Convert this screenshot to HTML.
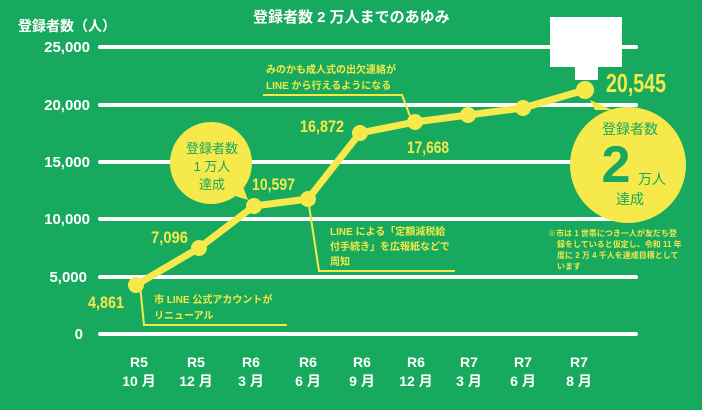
<!DOCTYPE html>
<html><head><meta charset="utf-8"><style>
body{margin:0;width:702px;height:410px;background:#17aa5e;overflow:hidden;font-family:"Liberation Sans","Noto Sans CJK JP",sans-serif}
</style></head><body>
<svg width="702" height="410" xmlns="http://www.w3.org/2000/svg" style="position:absolute;left:0;top:0">
<rect width="702" height="410" fill="#17aa5e"/>
<g font-family="Liberation Sans,Noto Sans CJK JP,sans-serif" font-weight="bold">
<text x="18" y="31" fill="#fff" font-size="14">登録者数（人）</text>
<text x="253" y="22" fill="#fff" font-size="15">登録者数 2 万人までのあゆみ</text>
<g stroke="#fff" stroke-width="4" stroke-linecap="round">
<line x1="100" y1="47" x2="636" y2="47"/><line x1="100" y1="105" x2="636" y2="105"/>
<line x1="100" y1="162" x2="636" y2="162"/><line x1="100" y1="219" x2="636" y2="219"/>
<line x1="100" y1="277" x2="636" y2="277"/><line x1="100" y1="334" x2="636" y2="334"/>
</g>
<g fill="#fff" font-size="15" text-anchor="end">
<text x="90" y="52">25,000</text><text x="90" y="110">20,000</text><text x="90" y="167">15,000</text>
<text x="90" y="224">10,000</text><text x="87" y="282">5,000</text><text x="83" y="339">0</text>
</g>
<g fill="#fff" font-size="14" text-anchor="middle">
<text x="139" y="367">R5</text><text x="139" y="386">10 月</text>
<text x="196" y="367">R5</text><text x="196" y="386">12 月</text>
<text x="251" y="367">R6</text><text x="251" y="386">3 月</text>
<text x="308" y="367">R6</text><text x="308" y="386">6 月</text>
<text x="362" y="367">R6</text><text x="362" y="386">9 月</text>
<text x="416" y="367">R6</text><text x="416" y="386">12 月</text>
<text x="469" y="367">R7</text><text x="469" y="386">3 月</text>
<text x="523" y="367">R7</text><text x="523" y="386">6 月</text>
<text x="579" y="367">R7</text><text x="579" y="386">8 月</text>
</g>
<g stroke="#f4e94a" stroke-width="2" fill="none">
<polyline points="140,285 144,325 287,325"/>
<polyline points="308,199 319,271 455,271"/>
<polyline points="263,95 402,95 410,116"/>
</g>
<circle cx="211" cy="163" r="41" fill="#f6e94c"/>
<polygon points="232,195 248,200 242,184" fill="#f6e94c"/>
<g fill="#17a85e" font-size="13" text-anchor="middle" font-weight="normal">
<text x="212" y="153">登録者数</text><text x="212" y="171">1 万人</text><text x="212" y="189">達成</text>
</g>
<circle cx="628" cy="165" r="58" fill="#f6e94c"/>
<polygon points="595,110 590,100 612,110" fill="#f6e94c"/>
<g fill="#17a85e" text-anchor="middle">
<text x="630" y="134" font-size="14" font-weight="normal">登録者数</text>
<text x="616" y="182" font-size="52">2</text>
<text x="652" y="184" font-size="14" font-weight="normal">万人</text>
<text x="630" y="204" font-size="14" font-weight="normal">達成</text>
</g>
<polyline points="136,285 199,248 254,206 308,199 360,133 415,122 468,115 523,108 585,90" fill="none" stroke="#f6e94c" stroke-width="7" stroke-linejoin="round"/>
<g fill="#f6e94c">
<circle cx="136" cy="285" r="8"/><circle cx="199" cy="248" r="8"/><circle cx="254" cy="206" r="8"/>
<circle cx="308" cy="199" r="8"/><circle cx="360" cy="133" r="8"/><circle cx="415" cy="122" r="8"/>
<circle cx="468" cy="115" r="8"/><circle cx="523" cy="108" r="8"/><circle cx="585" cy="90" r="9"/>
</g>
<g fill="#f6e94c" font-size="17">
<text x="88" y="308" textLength="36" lengthAdjust="spacingAndGlyphs">4,861</text>
<text x="151" y="243" textLength="37" lengthAdjust="spacingAndGlyphs">7,096</text>
<text x="252" y="190" textLength="43" lengthAdjust="spacingAndGlyphs">10,597</text>
<text x="300" y="132" textLength="44" lengthAdjust="spacingAndGlyphs">16,872</text>
<text x="407" y="153" textLength="42" lengthAdjust="spacingAndGlyphs">17,668</text>
<text x="606" y="92" font-size="26" textLength="60" lengthAdjust="spacingAndGlyphs">20,545</text>
</g>
<g fill="#f4e94a" font-size="10">
<text x="154" y="303">市 LINE 公式アカウントが</text><text x="154" y="319">リニューアル</text>
<text x="330" y="235">LINE による「定額減税給</text><text x="330" y="250">付手続き」を広報紙などで</text><text x="330" y="265">周知</text>
<text x="266" y="73">みのかも成人式の出欠連絡が</text><text x="266" y="89">LINE から行えるようになる</text>
</g>
<g fill="#f4e94a" font-size="8">
<text x="548" y="236">※市は 1 世帯につき一人が友だち登</text>
<text x="557" y="247">録をしていると仮定し、令和 11 年</text>
<text x="557" y="258">度に 2 万 4 千人を達成目標として</text>
<text x="557" y="269">います</text>
</g>
<rect x="550" y="17" width="72" height="50" fill="#fff"/>
<rect x="575" y="60" width="23" height="20" fill="#fff"/>
</g>
</svg>
</body></html>
